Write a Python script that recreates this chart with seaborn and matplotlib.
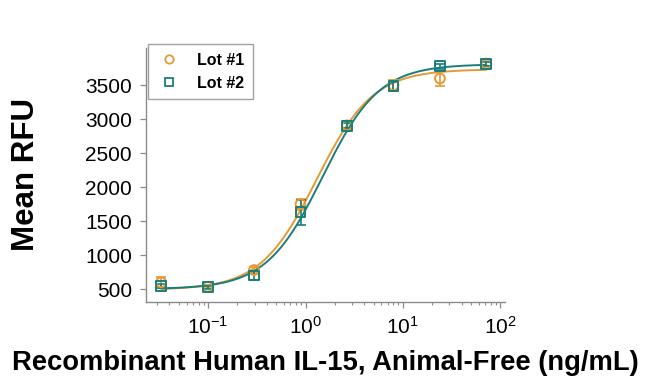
import numpy as np
import pandas as pd
import matplotlib
matplotlib.use("Agg")
import matplotlib.pyplot as plt
from matplotlib.lines import Line2D
from matplotlib.ticker import LogLocator, NullFormatter
import seaborn as sns

# concentration series (3-fold dilutions, ng/mL)
conc = [0.0329, 0.0988, 0.296, 0.889, 2.67, 8.0, 24.0, 72.0]

# Lot #1 means and SD
lot1_mean = [600, 534, 780, 1750, 2910, 3500, 3600, 3820]
lot1_err = [80, 25, 40, 80, 70, 80, 110, 30]

# Lot #2 means and SD
lot2_mean = [545, 525, 700, 1630, 2905, 3490, 3780, 3810]
lot2_err = [30, 25, 60, 180, 40, 60, 40, 30]

# 4PL fit parameters: bottom, top, EC50, hill
lot1_fit = [490, 3735, 1.30, 1.5]
lot2_fit = [500, 3810, 1.50, 1.5]

colors = {"Lot #1": "#E39A35", "Lot #2": "#1A7E78"}
markers = {"Lot #1": "o", "Lot #2": "s"}


def four_pl(x, bottom, top, ec50, hill):
    return bottom + (top - bottom) / (1 + (ec50 / x) ** hill)


points = pd.concat([
    pd.DataFrame({"conc": conc, "rfu": lot1_mean, "err": lot1_err, "lot": "Lot #1"}),
    pd.DataFrame({"conc": conc, "rfu": lot2_mean, "err": lot2_err, "lot": "Lot #2"}),
])

xs = np.logspace(np.log10(conc[0]), np.log10(conc[-1]), 300)
curves = pd.concat([
    pd.DataFrame({"conc": xs, "rfu": four_pl(xs, *lot1_fit), "lot": "Lot #1"}),
    pd.DataFrame({"conc": xs, "rfu": four_pl(xs, *lot2_fit), "lot": "Lot #2"}),
])

sns.set_style("ticks")
plt.rcParams["font.family"] = ["Liberation Sans", "DejaVu Sans"]
plt.rcParams["text.color"] = "black"

fig = plt.figure(figsize=(6.5, 3.85), dpi=100)
ax = fig.add_axes([0.2246, 0.2156, 0.5524, 0.66])

sns.lineplot(data=curves, x="conc", y="rfu", hue="lot", palette=colors,
             linewidth=1.4, legend=False, ax=ax)

for lot, grp in points.groupby("lot"):
    ax.errorbar(grp["conc"], grp["rfu"], yerr=grp["err"], fmt="none",
                ecolor=colors[lot], elinewidth=1.2, capsize=3.5, capthick=1.2)
    ax.scatter(grp["conc"], grp["rfu"], marker=markers[lot], s=50,
               facecolors="none", edgecolors=colors[lot], linewidths=1.4, zorder=3)

ax.set_xscale("log")
ax.set_xlim(0.023, 112)
ax.set_ylim(310, 4050)
ax.set_yticks([500, 1000, 1500, 2000, 2500, 3000, 3500])
ax.xaxis.set_major_locator(LogLocator(base=10, numticks=10))
ax.xaxis.set_minor_locator(LogLocator(base=10, subs=np.arange(2, 10), numticks=10))
ax.xaxis.set_minor_formatter(NullFormatter())

for side in ["top", "right"]:
    ax.spines[side].set_visible(False)
for side in ["left", "bottom"]:
    ax.spines[side].set_color("#8a8a8a")
    ax.spines[side].set_linewidth(1.0)

ax.tick_params(axis="both", which="major", direction="out", length=4,
               width=0.9, color="#8a8a8a", labelsize=15, labelcolor="black", pad=6)
ax.tick_params(axis="x", which="minor", direction="out", length=2.5,
               width=0.8, color="#8a8a8a")

ax.set_xlabel("Recombinant Human IL-15, Animal-Free (ng/mL)", fontsize=19.7,
              fontweight="bold", labelpad=9, color="black")
ax.set_ylabel("Mean RFU", fontsize=22.5, fontweight="bold", labelpad=32, color="black")

handles = [Line2D([], [], linestyle="none", marker=markers[k], markersize=6,
                  markerfacecolor="none", markeredgecolor=colors[k],
                  markeredgewidth=1.3, label=k) for k in colors]
leg = ax.legend(handles=handles, loc="upper left", bbox_to_anchor=(0.006, 1.016),
                borderaxespad=0, frameon=True, fancybox=False, edgecolor="#8a8a8a",
                prop={"weight": "bold", "size": 11.5}, handletextpad=1.0,
                borderpad=0.55, labelspacing=0.5, handlelength=1.5)
leg.get_frame().set_linewidth(1.0)

fig.savefig("out.png", dpi=100)
